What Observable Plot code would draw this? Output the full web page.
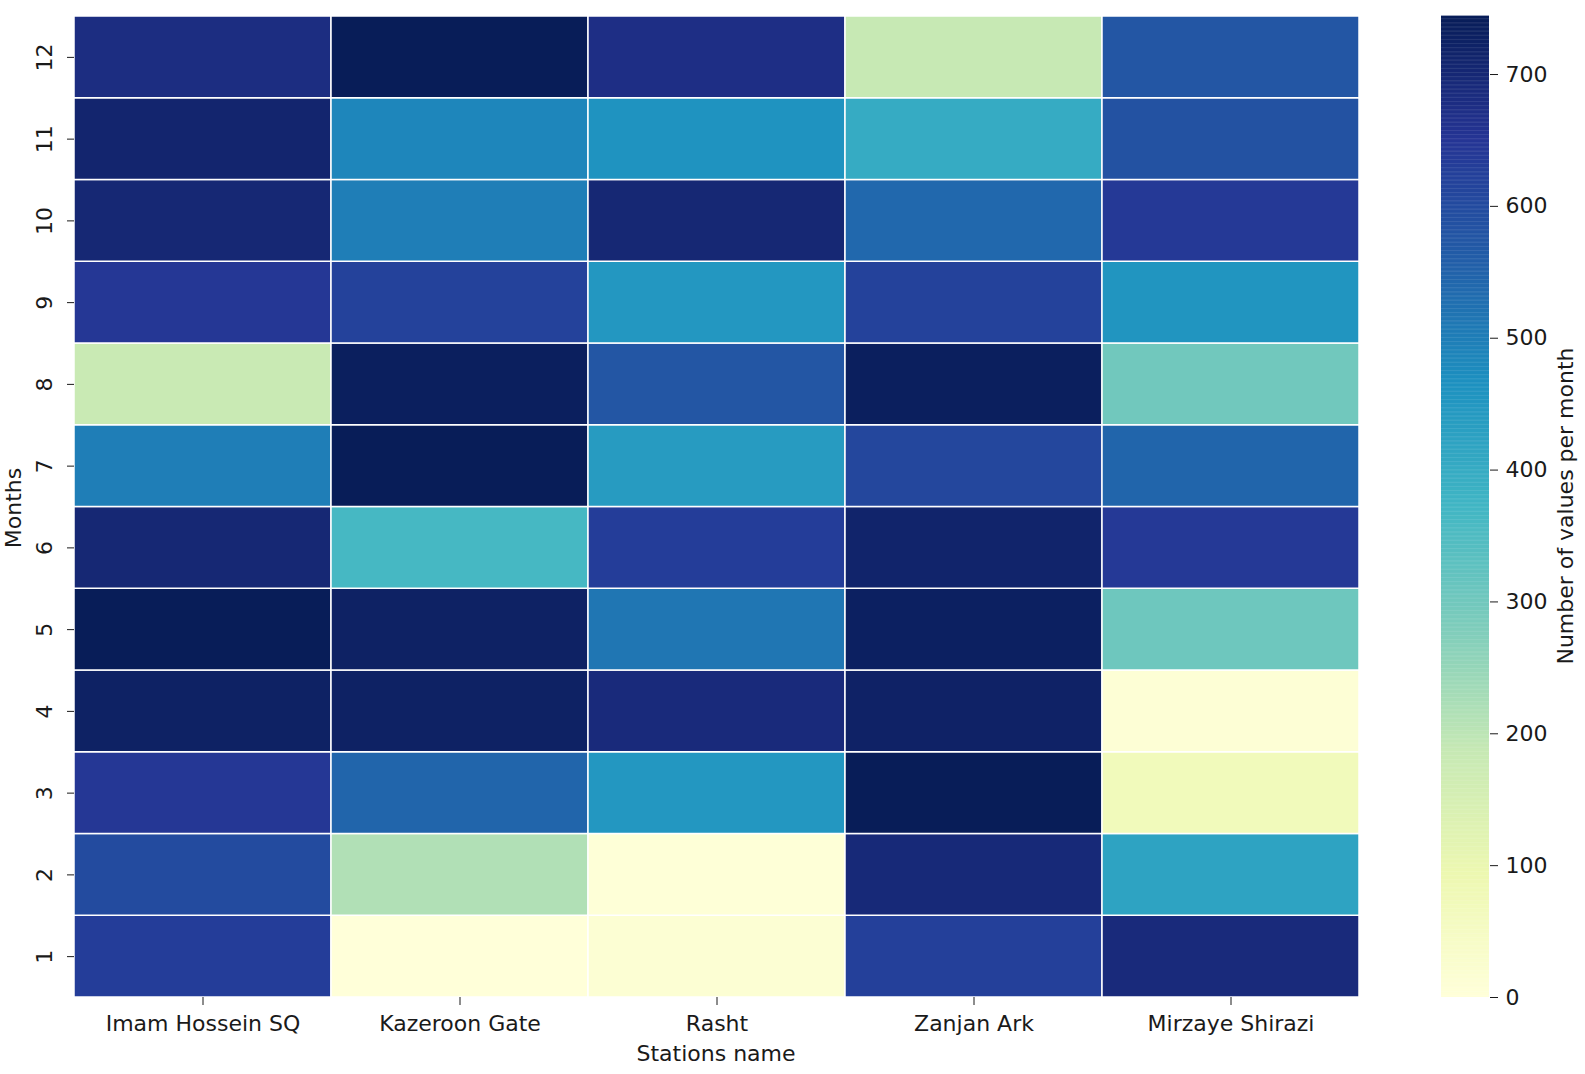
<!DOCTYPE html>
<html>
<head>
<meta charset="utf-8">
<script src="https://cdn.jsdelivr.net/npm/d3@7"></script>
<script src="https://cdn.jsdelivr.net/npm/@observablehq/plot@0.6"></script>
<style>
  html, body { margin: 0; padding: 0; background: #fff; overflow: hidden; }
  #wrap { position: relative; width: 1585px; height: 1074px; overflow: hidden; font-family: "DejaVu Sans", sans-serif; }
  #heat, #bar { position: absolute; top: 0; }
  #heat { left: 0; }
  #bar { left: 1400px; }
  .lab { position: absolute; left: 0; top: 0; width: 0; height: 0; overflow: visible; }
  .lab span { position: absolute; font-size: 22px; color: #1a1a1a; white-space: nowrap; font-family: "DejaVu Sans", sans-serif; transform: translate(-50%,-50%); }
  .rot span { transform: translate(-50%,-50%) rotate(-90deg); }
</style>
</head>
<body>
<div id="wrap">
  <div id="heat"></div>
  <div id="bar"></div>
  <div class="lab rot" style="left:13px; top:508px;"><span>Months</span></div>
  <div class="lab" style="left:716px; top:1053px;"><span>Stations name</span></div>
  <div class="lab rot" style="left:1565px; top:506px;"><span>Number of values per month</span></div>
</div>
<script>
const stations = ["Imam Hossein SQ", "Kazeroon Gate", "Rasht", "Zanjan Ark", "Mirzaye Shirazi"];
const months = [12, 11, 10, 9, 8, 7, 6, 5, 4, 3, 2, 1];
// values for months 1..12, one array per station
const imamHossein    = [630, 600, 645, 725, 744, 700, 500, 180, 645, 700, 710, 680];
const kazeroonGate   = [0,   215, 545, 725, 725, 365, 744, 735, 620, 500, 485, 744];
const rasht          = [15,  5,   450, 690, 515, 630, 440, 575, 450, 700, 460, 675];
const zanjanArk      = [625, 695, 744, 722, 730, 715, 610, 735, 620, 540, 400, 185];
const mirzayeShirazi = [690, 420, 70,  10,  305, 640, 545, 300, 455, 640, 585, 575];
const colorTicks = [0, 100, 200, 300, 400, 500, 600, 700];
const vmax = 744;
const ylgnbu = ["#ffffd9", "#edf8b1", "#c7e9b4", "#7fcdbb", "#41b6c4", "#1d91c0", "#225ea8", "#253494", "#081d58"];

const series = [imamHossein, kazeroonGate, rasht, zanjanArk, mirzayeShirazi];
const cells = [];
stations.forEach((s, i) => {
  series[i].forEach((v, m) => cells.push({station: s, month: m + 1, value: v}));
});
const colorDomain = ylgnbu.map((_, i) => i * vmax / (ylgnbu.length - 1));
const colorOpts = {type: "linear", domain: colorDomain, range: ylgnbu, interpolate: "rgb", clamp: true};
const fontStyle = {fontFamily: "DejaVu Sans, sans-serif", fontSize: "22px", color: "#1a1a1a", background: "transparent", overflow: "visible"};

const heat = Plot.plot({
  width: 1400,
  height: 1074,
  marginLeft: 74,
  marginRight: 41,
  marginTop: 16,
  marginBottom: 77,
  style: fontStyle,
  x: {domain: stations, padding: 0, round: false, label: null},
  y: {domain: months, padding: 0, round: false, label: null},
  color: colorOpts,
  marks: [
    Plot.cell(cells, {x: "station", y: "month", fill: "value", stroke: "white", strokeWidth: 1.5}),
    Plot.axisX({tickSize: 8, tickPadding: 10, label: null}),
    Plot.axisY({tickSize: 7, tickFormat: () => "", label: null}),
    Plot.text(months, {y: d => d, text: d => String(d), frameAnchor: "left", dx: -30, rotate: -90, textAnchor: "middle", fontSize: 22, fill: "#1a1a1a"})
  ]
});
document.getElementById("heat").appendChild(heat);

const gradient = d3.range(0, vmax, 1);
const bar = Plot.plot({
  width: 185,
  height: 1074,
  marginLeft: 41,
  marginRight: 96,
  marginTop: 16,
  marginBottom: 77,
  style: fontStyle,
  x: {domain: [0, 1], axis: null},
  y: {domain: [0, vmax], label: null},
  color: colorOpts,
  marks: [
    Plot.rect(gradient, {x1: 0, x2: 1, y1: d => d, y2: d => d + 1.3, fill: d => d + 0.5}),
    Plot.axisY({anchor: "right", ticks: colorTicks, tickSize: 8, tickPadding: 8, label: null})
  ]
});
document.getElementById("bar").appendChild(bar);
</script>
</body>
</html>
